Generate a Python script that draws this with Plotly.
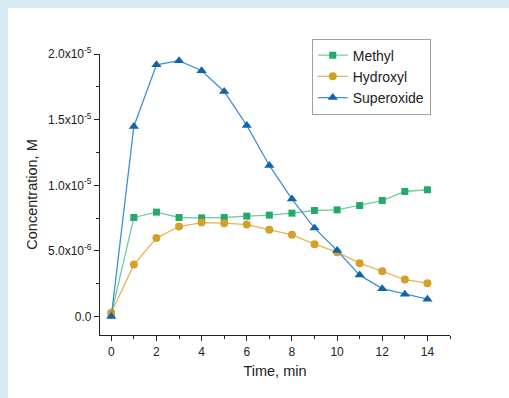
import plotly.graph_objects as go

time_min = list(range(15))
methyl = [0.2e-6, 7.55e-6, 7.96e-6, 7.55e-6, 7.52e-6, 7.55e-6, 7.65e-6, 7.73e-6,
          7.88e-6, 8.08e-6, 8.13e-6, 8.46e-6, 8.84e-6, 9.53e-6, 9.66e-6]
hydroxyl = [0.3e-6, 3.96e-6, 5.98e-6, 6.86e-6, 7.16e-6, 7.12e-6, 7.01e-6, 6.61e-6,
            6.23e-6, 5.52e-6, 4.91e-6, 4.07e-6, 3.46e-6, 2.82e-6, 2.55e-6]
superoxide = [0.0, 1.448e-5, 1.918e-5, 1.949e-5, 1.873e-5, 1.715e-5, 1.456e-5, 1.151e-5,
              0.895e-5, 0.674e-5, 0.503e-5, 0.316e-5, 0.213e-5, 0.171e-5, 0.133e-5]

y_tickvals = [0, 5e-6, 1e-5, 1.5e-5, 2e-5]
y_ticktext = ["0.0", "5.0x10<sup>-6</sup>", "1.0x10<sup>-5</sup>",
              "1.5x10<sup>-5</sup>", "2.0x10<sup>-5</sup>"]
x_tickvals = [0, 2, 4, 6, 8, 10, 12, 14]

W, H = 509, 398
ml, mr, mt, mb = 100, 59, 54, 63

fig = go.Figure()
series = [
    ("Methyl", methyl, "#6fcf9e", "#26a86a", "square", 7),
    ("Hydroxyl", hydroxyl, "#e4b84c", "#d5a02a", "circle", 8),
    ("Superoxide", superoxide, "#3f90d6", "#1463a8", "triangle-up", 9),
]
for name, vals, lc, mc, sym, sz in series:
    fig.add_trace(go.Scatter(
        x=time_min, y=vals, name=name, mode="lines+markers",
        line=dict(color=lc, width=1.3),
        marker=dict(symbol=sym, size=sz, color=mc, line=dict(width=0)),
    ))

pw = W - ml - mr
ph = H - mt - mb
fig.add_shape(type="rect", xref="paper", yref="paper",
              x0=(8 - ml) / pw, x1=3, y0=-2, y1=(H - mb - 8) / ph,
              fillcolor="white", line=dict(width=0), layer="below")

axis_font = dict(family="Liberation Sans, Arial, sans-serif", size=12, color="#222")
fig.update_layout(
    width=W, height=H,
    margin=dict(l=ml, r=mr, t=mt, b=mb),
    paper_bgcolor="#d8eaf3",
    plot_bgcolor="white",
    font=dict(family="Liberation Sans, Arial, sans-serif", color="#222"),
    showlegend=True,
    legend=dict(x=0.605, y=1.055, xanchor="left", yanchor="top",
                bordercolor="#a0a0a0", borderwidth=1, bgcolor="white",
                font=dict(size=14), tracegroupgap=0, itemwidth=30),
    xaxis=dict(range=[-0.5, 15], tickvals=x_tickvals, ticks="outside", ticklen=5,
               tickwidth=1, tickcolor="#222", showline=True, linecolor="#222",
               linewidth=1.3, showgrid=False, zeroline=False, tickfont=axis_font,
               title=dict(text="Time, min", font=dict(size=14.5), standoff=8),
               minor=dict(ticks="outside", ticklen=3, dtick=1, tick0=0,
                          tickcolor="#222", showgrid=False)),
    yaxis=dict(range=[-1.4e-6, 2.0e-5], tickvals=y_tickvals, ticktext=y_ticktext,
               ticks="outside", ticklen=5, tickwidth=1, tickcolor="#222",
               showline=True, linecolor="#222", linewidth=1.3, showgrid=False,
               zeroline=False, tickfont=axis_font,
               title=dict(text="Concentration, M", font=dict(size=14.5), standoff=6),
               minor=dict(ticks="outside", ticklen=3, dtick=2.5e-6, tick0=0,
                          tickcolor="#222", showgrid=False)),
)

fig.write_html("out.html")
